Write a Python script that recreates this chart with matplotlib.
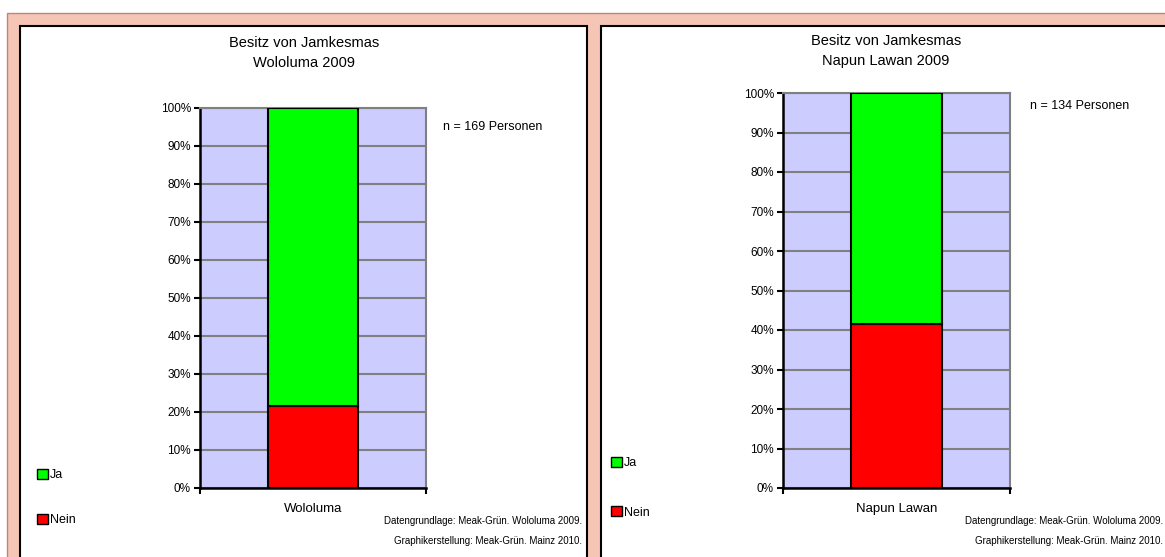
import matplotlib.pyplot as plt
from matplotlib.patches import Rectangle, Patch

plt.rcParams['font.family'] = ['Liberation Sans', 'DejaVu Sans']

# data
places = ['Wololuma', 'Napun Lawan']
nein = [21.6, 41.4]
ja = [100 - v for v in nein]
persons = [169, 134]
year = 2009
yticks = list(range(0, 101, 10))
ytick_labels = [f"{t}%" for t in yticks]
source_lines = ["Datengrundlage: Meak-Grün. Wololuma 2009.",
                "Graphikerstellung: Meak-Grün. Mainz 2010."]

W, H = 1165, 557
BG = '#F5C5B5'
PLOT_BG = '#CCCCFF'
GRID = '#808080'


def fx(px):
    return px / W


def fy(py):
    return 1 - py / H


def rect(x0, y0, x1, y1):
    # pixel box (top-left origin) -> figure fraction rect
    return [fx(x0), fy(y1), fx(x1) - fx(x0), fy(y0) - fy(y1)]


fig = plt.figure(figsize=(W / 100, H / 100), dpi=100)
fig.patch.set_facecolor('white')

# salmon background and the two white panels
fig.patches.append(Rectangle((fx(7), fy(H + 5)), 1.1, fy(13) - fy(H + 5),
                             transform=fig.transFigure, facecolor=BG,
                             edgecolor='#B88878', lw=1, zorder=-2))
panels = [(20, 26, 587, H + 5), (601, 26, 1175, H + 5)]
for x0, y0, x1, y1 in panels:
    r = rect(x0, y0, x1, y1)
    fig.patches.append(Rectangle((r[0], r[1]), r[2], r[3],
                                 transform=fig.transFigure, facecolor='white',
                                 edgecolor='black', lw=1.5, zorder=-1))

# layout per panel: axes box, title y, n-label pos, legend pos, source x
layout = [
    dict(ax=(200, 108, 426, 487.5), title=(304, 53), n=(443, 127),
         leg=(37, 469), legsp=2.6, src=582),
    dict(ax=(783, 93, 1010, 488), title=(886, 51), n=(1030, 106),
         leg=(611, 457), legsp=2.95, src=1163),
]

for i, place in enumerate(places):
    L = layout[i]
    ax = fig.add_axes(rect(*L['ax']))
    ax.set_zorder(2)
    ax.set_facecolor(PLOT_BG)
    ax.bar(0, nein[i], width=0.4, color='#FF0000', edgecolor='black', lw=1.5, zorder=3)
    ax.bar(0, ja[i], bottom=nein[i], width=0.4, color='#00FF00', edgecolor='black',
           lw=1.5, zorder=3)
    ax.set_xlim(-0.5, 0.5)
    ax.set_ylim(0, 100)
    ax.set_yticks(yticks)
    ax.set_yticklabels(ytick_labels, fontsize=8.5)
    ax.set_xticks([0])
    ax.set_xticklabels([place], fontsize=9.5)
    ax.set_xticks([-0.5, 0.5], minor=True)
    ax.tick_params(axis='x', which='major', length=0, pad=11)
    ax.tick_params(axis='x', which='minor', length=4, width=1.5, direction='out')
    ax.tick_params(axis='y', length=4, width=1.5, direction='out', pad=2.5)
    ax.yaxis.grid(True, color=GRID, lw=1.5)
    ax.set_axisbelow(True)
    for s in ['left', 'bottom']:
        ax.spines[s].set_color('black')
        ax.spines[s].set_linewidth(1.8)
    for s in ['top', 'right']:
        ax.spines[s].set_color(GRID)
        ax.spines[s].set_linewidth(1.5)

    tx, ty = L['title']
    fig.text(fx(tx), fy(ty), f"Besitz von Jamkesmas\n{place} {year}",
             ha='center', va='center', fontsize=10.5, linespacing=1.6)
    nx, ny = L['n']
    fig.text(fx(nx), fy(ny), f"n = {persons[i]} Personen", ha='left', va='center',
             fontsize=9)

    handles = [Patch(facecolor='#00FF00', edgecolor='black', lw=1),
               Patch(facecolor='#FF0000', edgecolor='black', lw=1)]
    lx, ly = L['leg']
    fig.legend(handles, ['Ja', 'Nein'], loc='upper left',
               bbox_to_anchor=(fx(lx), fy(ly)), frameon=False, fontsize=9,
               handlelength=0.85, handleheight=0.85, handletextpad=0.2,
               borderpad=0, borderaxespad=0, labelspacing=L['legsp'])

    sx = L['src']
    fig.text(fx(sx), fy(521), source_lines[0], ha='right', va='center', fontsize=7)
    fig.text(fx(sx), fy(541), source_lines[1], ha='right', va='center', fontsize=7)

fig.savefig('out.png', dpi=100)
